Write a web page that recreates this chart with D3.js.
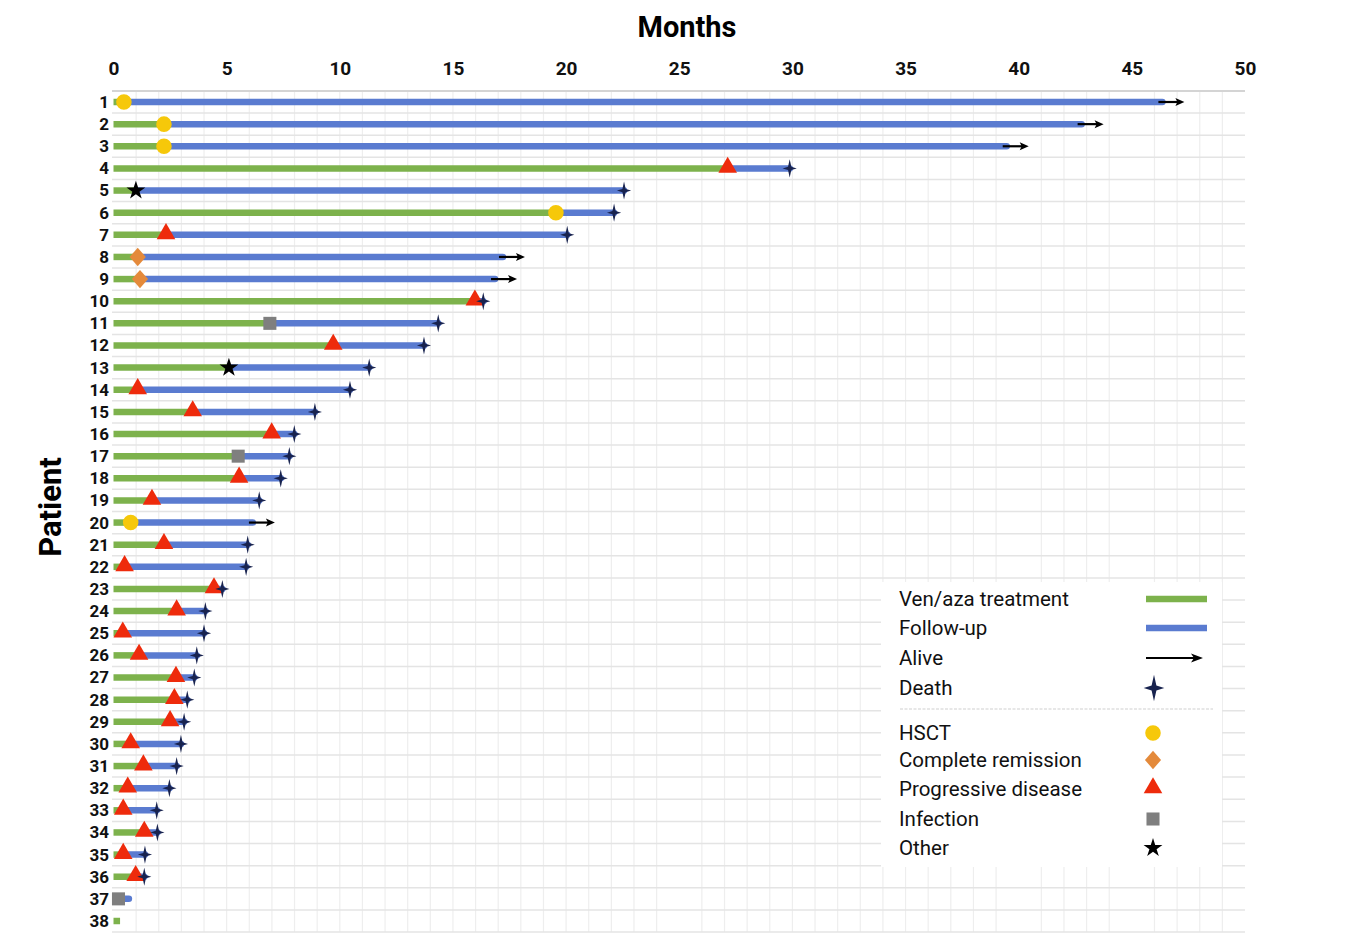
<!DOCTYPE html>
<html>
<head>
<meta charset="utf-8">
<script src="https://cdn.jsdelivr.net/npm/d3@7"></script>
<style>
  body { margin: 0; background: #fff; }
  svg { display: block; }
</style>
</head>
<body>
<svg id="chart" width="1355" height="942"></svg>
<script>
// patients 1..38, months of treatment / follow-up
var patients = d3.range(1, 39);
var treatmentEnd = [0.46, 2.23, 2.23, 27.14, 0.99, 19.55, 2.32, 1.07, 1.17, 15.97,
  6.91, 9.71, 5.10, 1.07, 3.50, 6.99, 5.51, 5.55, 1.70, 0.76,
  2.23, 0.49, 4.44, 2.79, 0.41, 1.13, 2.76, 2.69, 2.50, 0.76,
  1.32, 0.63, 0.43, 1.36, 0.43, 0.98, 0.22, 0.29];
var followUpEnd = [46.35, 42.78, 39.47, 29.88, 22.56, 22.12, 20.05, 17.21, 16.86, 16.34,
  14.35, 13.72, 11.30, 10.45, 8.90, 7.99, 7.77, 7.39, 6.44, 6.16,
  5.93, 5.86, 4.81, 4.06, 4.00, 3.68, 3.57, 3.26, 3.12, 2.98,
  2.79, 2.47, 1.91, 1.94, 1.39, 1.36, 0.68, 0.29];
// event at end of treatment: H = HSCT, CR = complete remission, PD = progressive disease, INF = infection, OTH = other
var events = ["H", "H", "H", "PD", "OTH", "H", "PD", "CR", "CR", "PD",
  "INF", "PD", "OTH", "PD", "PD", "PD", "INF", "PD", "PD", "H",
  "PD", "PD", "PD", "PD", "PD", "PD", "PD", "PD", "PD", "PD",
  "PD", "PD", "PD", "PD", "PD", "PD", "INF", ""];
// outcome at end of follow-up: A = alive, D = death
var outcomes = ["A", "A", "A", "D", "D", "D", "D", "A", "A", "D",
  "D", "D", "D", "D", "D", "D", "D", "D", "D", "A",
  "D", "D", "D", "D", "D", "D", "D", "D", "D", "D",
  "D", "D", "D", "D", "D", "D", "", ""];
var monthTicks = [0, 5, 10, 15, 20, 25, 30, 35, 40, 45, 50];

var green = "#7db24c", blue = "#5a7bd0", navy = "#18234f";
var narrow = '"Liberation Sans Narrow", "Arial Narrow", "Roboto", sans-serif';

var svg = d3.select("#chart");

var x = d3.scaleLinear().domain([0, 50]).range([113.5, 1245]);
var y = d3.scalePoint().domain(patients).range([102, 921]);
var step = y.step();

// custom symbols
var sparkle = {
  draw: function (ctx, size) {
    var h = Math.sqrt(size), w = h * 0.78, k = h * 0.09;
    ctx.moveTo(0, -h / 2);
    ctx.lineTo(k, -k);
    ctx.lineTo(w / 2, 0);
    ctx.lineTo(k, k);
    ctx.lineTo(0, h / 2);
    ctx.lineTo(-k, k);
    ctx.lineTo(-w / 2, 0);
    ctx.lineTo(-k, -k);
    ctx.closePath();
  }
};
var rhomb = {
  draw: function (ctx, size) {
    var r = Math.sqrt(size) / 2;
    ctx.moveTo(0, -r * 1.08);
    ctx.lineTo(r * 0.95, 0);
    ctx.lineTo(0, r * 1.08);
    ctx.lineTo(-r * 0.95, 0);
    ctx.closePath();
  }
};

var eventStyle = {
  H: { type: d3.symbolCircle, size: 190, fill: "#f6c80a" },
  CR: { type: rhomb, size: 290, fill: "#e48a3b" },
  PD: { type: d3.symbolTriangle, size: 150, fill: "#ee2b0c" },
  INF: { type: d3.symbolSquare, size: 170, fill: "#7f7f7f" },
  OTH: { type: d3.symbolStar, size: 110, fill: "#000000" }
};

// grid
var grid = svg.append("g");
var gridMonths = d3.range(1, 50).filter(function (m) { return m !== 25 && m !== 40 && m !== 45; });
grid.selectAll("line.v").data(gridMonths).enter().append("line")
  .attr("x1", function (d) { return x(d); }).attr("x2", function (d) { return x(d); })
  .attr("y1", 91).attr("y2", 932)
  .attr("stroke", "#eeeeee").attr("stroke-width", 1.2);
grid.selectAll("line.h").data(d3.range(0, 39)).enter().append("line")
  .attr("x1", 112).attr("x2", 1245)
  .attr("y1", function (d) { return y(1) - step / 2 + d * step; })
  .attr("y2", function (d) { return y(1) - step / 2 + d * step; })
  .attr("stroke", function (d) { return d === 0 ? "#d4d4d4" : "#e4e4e4"; })
  .attr("stroke-width", function (d) { return d === 0 ? 2 : 1.5; });

// top axis
var xAxis = d3.axisTop(x).tickValues(monthTicks).tickSize(0).tickPadding(0);
var ax = svg.append("g").attr("transform", "translate(0,75)").call(xAxis);
ax.select(".domain").remove();
ax.selectAll("text")
  .attr("font-family", narrow).attr("font-weight", "bold")
  .attr("font-size", 19).attr("fill", "#111");

svg.append("text").attr("x", 687).attr("y", 37).attr("text-anchor", "middle")
  .attr("font-family", narrow).attr("font-weight", "bold").attr("font-size", 29)
  .attr("fill", "#000").text("Months");

// left axis (patient numbers)
var yAxis = d3.axisLeft(y).tickSize(0).tickPadding(0);
var ay = svg.append("g").attr("transform", "translate(109,0)").call(yAxis);
ay.select(".domain").remove();
ay.selectAll("text")
  .attr("font-family", narrow).attr("font-weight", "bold")
  .attr("font-size", 17).attr("fill", "#111");

svg.append("text").attr("transform", "translate(61,507) rotate(-90)")
  .attr("text-anchor", "middle")
  .attr("font-family", narrow).attr("font-weight", "bold").attr("font-size", 31)
  .attr("fill", "#000").text("Patient");

// rows
var rows = patients.map(function (p, i) {
  return { id: p, tEnd: treatmentEnd[i], fEnd: followUpEnd[i], ev: events[i], out: outcomes[i] };
});

var plot = svg.append("g");

plot.selectAll("line.fu").data(rows.filter(function (r) { return r.fEnd > r.tEnd; })).enter().append("line")
  .attr("x1", function (r) { return x(r.tEnd); })
  .attr("x2", function (r) { return x(r.fEnd); })
  .attr("y1", function (r) { return y(r.id); })
  .attr("y2", function (r) { return y(r.id); })
  .attr("stroke", blue).attr("stroke-width", 6.5).attr("stroke-linecap", "round");

plot.selectAll("line.tr").data(rows).enter().append("line")
  .attr("x1", x(0))
  .attr("x2", function (r) { return x(r.tEnd); })
  .attr("y1", function (r) { return y(r.id); })
  .attr("y2", function (r) { return y(r.id); })
  .attr("stroke", green).attr("stroke-width", 6.5);

// alive arrows
var alive = rows.filter(function (r) { return r.out === "A"; });
plot.selectAll("line.arrow").data(alive).enter().append("line")
  .attr("x1", function (r) { return x(r.fEnd) - 4; })
  .attr("x2", function (r) { return x(r.fEnd) + 16; })
  .attr("y1", function (r) { return y(r.id); })
  .attr("y2", function (r) { return y(r.id); })
  .attr("stroke", "#000").attr("stroke-width", 2.2);
plot.selectAll("path.head").data(alive).enter().append("path")
  .attr("transform", function (r) { return "translate(" + (x(r.fEnd) + 22) + "," + y(r.id) + ")"; })
  .attr("d", "M0,0L-9,-4L-7,0L-9,4Z").attr("fill", "#000");

// events
plot.selectAll("path.ev").data(rows.filter(function (r) { return r.ev; })).enter().append("path")
  .attr("transform", function (r) {
    var dy = r.ev === "PD" ? -1 : 0;
    return "translate(" + x(r.tEnd) + "," + (y(r.id) + dy) + ")";
  })
  .attr("d", function (r) { var s = eventStyle[r.ev]; return d3.symbol(s.type, s.size)(); })
  .attr("fill", function (r) { return eventStyle[r.ev].fill; });

// deaths
plot.selectAll("path.death").data(rows.filter(function (r) { return r.out === "D"; })).enter().append("path")
  .attr("transform", function (r) { return "translate(" + x(r.fEnd) + "," + y(r.id) + ")"; })
  .attr("d", d3.symbol(sparkle, 330)())
  .attr("fill", navy);

// legend
var lg = svg.append("g");
lg.append("rect").attr("x", 881).attr("y", 582).attr("width", 341).attr("height", 285).attr("fill", "#fff");

var legendItems = [
  { label: "Ven/aza treatment", y: 599, kind: "line", color: green },
  { label: "Follow-up", y: 628, kind: "line", color: blue },
  { label: "Alive", y: 658, kind: "arrow" },
  { label: "Death", y: 688, kind: "death" },
  { label: "HSCT", y: 733, kind: "H" },
  { label: "Complete remission", y: 760, kind: "CR" },
  { label: "Progressive disease", y: 789, kind: "PD" },
  { label: "Infection", y: 819, kind: "INF" },
  { label: "Other", y: 848, kind: "OTH" }
];

lg.selectAll("text").data(legendItems).enter().append("text")
  .attr("x", 899).attr("y", function (d) { return d.y; }).attr("dy", "0.35em")
  .attr("font-family", "Roboto, sans-serif").attr("font-size", 20.5).attr("fill", "#111")
  .text(function (d) { return d.label; });

lg.append("line").attr("x1", 900).attr("x2", 1213).attr("y1", 709).attr("y2", 709)
  .attr("stroke", "#cfcfcf").attr("stroke-width", 1.2).attr("stroke-dasharray", "3,1.5");

legendItems.forEach(function (d) {
  if (d.kind === "line") {
    lg.append("line").attr("x1", 1146).attr("x2", 1207).attr("y1", d.y).attr("y2", d.y)
      .attr("stroke", d.color).attr("stroke-width", 6.5);
  } else if (d.kind === "arrow") {
    lg.append("line").attr("x1", 1146).attr("x2", 1196).attr("y1", d.y).attr("y2", d.y)
      .attr("stroke", "#000").attr("stroke-width", 2);
    lg.append("path").attr("transform", "translate(1203," + d.y + ")")
      .attr("d", "M0,0L-12,-4.5L-9,0L-12,4.5Z").attr("fill", "#000");
  } else if (d.kind === "death") {
    lg.append("path").attr("transform", "translate(1154," + d.y + ")")
      .attr("d", d3.symbol(sparkle, 700)()).attr("fill", navy);
  } else {
    var s = eventStyle[d.kind];
    lg.append("path").attr("transform", "translate(1153," + (d.y + (d.kind === "PD" ? -1 : 0)) + ")")
      .attr("d", d3.symbol(s.type, s.size)()).attr("fill", s.fill);
  }
});
</script>
</body>
</html>
